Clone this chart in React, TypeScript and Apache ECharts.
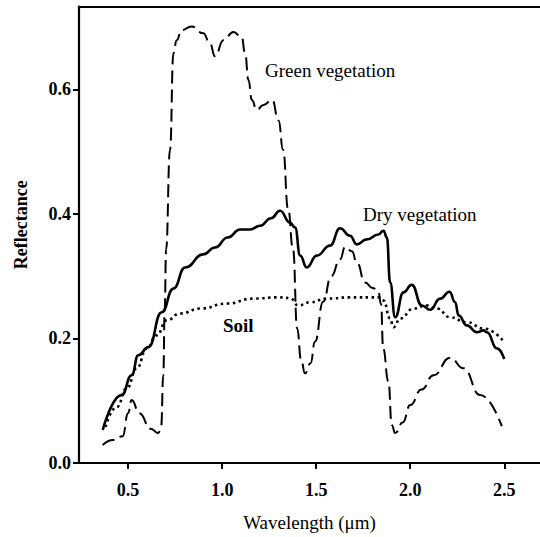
import React, { useEffect, useRef } from "react";
import * as echarts from "echarts";

const xTicks = [0.5, 1.0, 1.5, 2.0, 2.5];
const yTicks = [0, 0.2, 0.4, 0.6];

const greenVegetation: [number, number][] = [
  [0.365, 0.029], [0.42, 0.037], [0.471, 0.043], [0.50, 0.08], [0.519, 0.101],
  [0.56, 0.08], [0.62, 0.055], [0.661, 0.048], [0.676, 0.06], [0.687, 0.14],
  [0.695, 0.25], [0.702, 0.343], [0.723, 0.503], [0.741, 0.658], [0.758, 0.679],
  [0.785, 0.695], [0.838, 0.701], [0.900, 0.690], [0.935, 0.674], [0.962, 0.653],
  [1.007, 0.679], [1.060, 0.692], [1.104, 0.684], [1.122, 0.658], [1.140, 0.615],
  [1.158, 0.583], [1.184, 0.567], [1.22, 0.575], [1.266, 0.583], [1.30, 0.55],
  [1.324, 0.503], [1.351, 0.407], [1.377, 0.343], [1.399, 0.216], [1.42, 0.165],
  [1.441, 0.144], [1.47, 0.16], [1.494, 0.195], [1.537, 0.259], [1.58, 0.30],
  [1.627, 0.327], [1.654, 0.347], [1.69, 0.34], [1.716, 0.322], [1.76, 0.29],
  [1.80, 0.281], [1.83, 0.276], [1.845, 0.255], [1.856, 0.184], [1.884, 0.131],
  [1.902, 0.061], [1.920, 0.048], [1.96, 0.065], [2.0, 0.093], [2.06, 0.118],
  [2.124, 0.141], [2.212, 0.169], [2.283, 0.152], [2.372, 0.109], [2.487, 0.059],
];

const dryVegetation: [number, number][] = [
  [0.365, 0.053], [0.466, 0.109], [0.519, 0.141], [0.554, 0.173], [0.608, 0.186],
  [0.679, 0.242], [0.741, 0.280], [0.803, 0.314], [0.900, 0.335], [0.962, 0.346],
  [1.03, 0.362], [1.095, 0.375], [1.148, 0.375], [1.202, 0.381], [1.26, 0.393],
  [1.308, 0.405], [1.361, 0.386], [1.388, 0.378], [1.415, 0.333], [1.450, 0.314],
  [1.503, 0.333], [1.574, 0.349], [1.627, 0.377], [1.680, 0.365], [1.716, 0.351],
  [1.769, 0.359], [1.831, 0.367], [1.858, 0.373], [1.876, 0.362], [1.893, 0.290],
  [1.920, 0.234], [1.964, 0.274], [2.008, 0.286], [2.062, 0.253], [2.106, 0.246],
  [2.159, 0.264], [2.209, 0.275], [2.239, 0.258], [2.257, 0.237], [2.301, 0.221],
  [2.354, 0.210], [2.390, 0.213], [2.408, 0.210], [2.461, 0.184], [2.500, 0.167],
];

const soil: [number, number][] = [
  [0.38, 0.058], [0.44, 0.09], [0.493, 0.120], [0.546, 0.152], [0.599, 0.184],
  [0.652, 0.205], [0.705, 0.229], [0.776, 0.240], [0.883, 0.248], [1.025, 0.256],
  [1.166, 0.264], [1.291, 0.266], [1.361, 0.265], [1.405, 0.253], [1.468, 0.258],
  [1.556, 0.264], [1.680, 0.266], [1.831, 0.266], [1.858, 0.261], [1.893, 0.232],
  [1.911, 0.218], [1.947, 0.232], [2.017, 0.248], [2.088, 0.253], [2.142, 0.248],
  [2.212, 0.234], [2.301, 0.226], [2.390, 0.216], [2.497, 0.195],
];

const FONT = "Liberation Serif";
const X_MIN = 0.239;
const X_MAX = 2.69;
const Y_MIN = 0;
const Y_MAX = 0.733;

export default function App() {
  const ref = useRef<HTMLDivElement>(null);
  useEffect(() => {
    if (!ref.current) return;
    const chart = echarts.init(ref.current, undefined, { renderer: "svg" });
    const axisLine = { show: true, lineStyle: { color: "#000", width: 2.2 } };
    const annot = (text: string, x: number, y: number, weight: string) => ({
      type: "text",
      x,
      y,
      style: { text, fontFamily: FONT, fontSize: 19, fontWeight: weight, fill: "#000", textVerticalAlign: "top" },
    });
    chart.setOption({
      animation: false,
      backgroundColor: "#fff",
      grid: { left: 79, right: 0, top: 6.5, bottom: 72, containLabel: false },
      xAxis: [
        {
          type: "value",
          min: X_MIN,
          max: X_MAX,
          name: "Wavelength (\u03bcm)",
          nameLocation: "middle",
          nameGap: 50,
          nameTextStyle: { fontFamily: FONT, fontSize: 19, color: "#000" },
          axisLine,
          axisTick: { show: true, inside: false, length: 6, customValues: xTicks, lineStyle: { color: "#000", width: 2 } },
          axisLabel: {
            customValues: xTicks,
            margin: 18,
            fontFamily: FONT,
            fontSize: 18,
            fontWeight: "bold",
            color: "#000",
            formatter: (v: number) => v.toFixed(1),
          },
          splitLine: { show: false },
        },
        {
          type: "value",
          position: "top",
          min: X_MIN,
          max: X_MAX,
          axisLine,
          axisTick: { show: false },
          axisLabel: { show: false },
          splitLine: { show: false },
        },
      ],
      yAxis: {
        type: "value",
        min: Y_MIN,
        max: Y_MAX,
        name: "Reflectance",
        nameLocation: "middle",
        nameGap: 49,
        nameTextStyle: { fontFamily: FONT, fontSize: 18, fontWeight: "bold", color: "#000", padding: [0, 0, 0, 20] },
        axisLine,
        axisTick: { show: true, inside: false, length: 6, customValues: yTicks, lineStyle: { color: "#000", width: 2 } },
        axisLabel: {
          customValues: yTicks,
          margin: 8,
          fontFamily: FONT,
          fontSize: 18,
          fontWeight: "bold",
          color: "#000",
          formatter: (v: number) => v.toFixed(1),
        },
        splitLine: { show: false },
      },
      graphic: [
        annot("Green vegetation", 265, 61, "normal"),
        annot("Dry vegetation", 363, 205, "normal"),
        annot("Soil", 223, 316, "bold"),
      ],
      series: [
        {
          name: "Green vegetation",
          type: "line",
          data: greenVegetation,
          showSymbol: false,
          smooth: 0.5,
          smoothMonotone: "x",
          lineStyle: { color: "#000", width: 2, type: [13, 6] },
        },
        {
          name: "Dry vegetation",
          type: "line",
          data: dryVegetation,
          showSymbol: false,
          smooth: 0.5,
          smoothMonotone: "x",
          lineStyle: { color: "#000", width: 2.6 },
        },
        {
          name: "Soil",
          type: "line",
          data: soil,
          showSymbol: false,
          smooth: 0.5,
          smoothMonotone: "x",
          lineStyle: { color: "#000", width: 2.6, type: [2.5, 3.5] },
        },
      ],
    });
    return () => chart.dispose();
  }, []);
  return <div ref={ref} style={{ position: "absolute", left: 0, top: 0, width: 540, height: 537 }} />;
}
